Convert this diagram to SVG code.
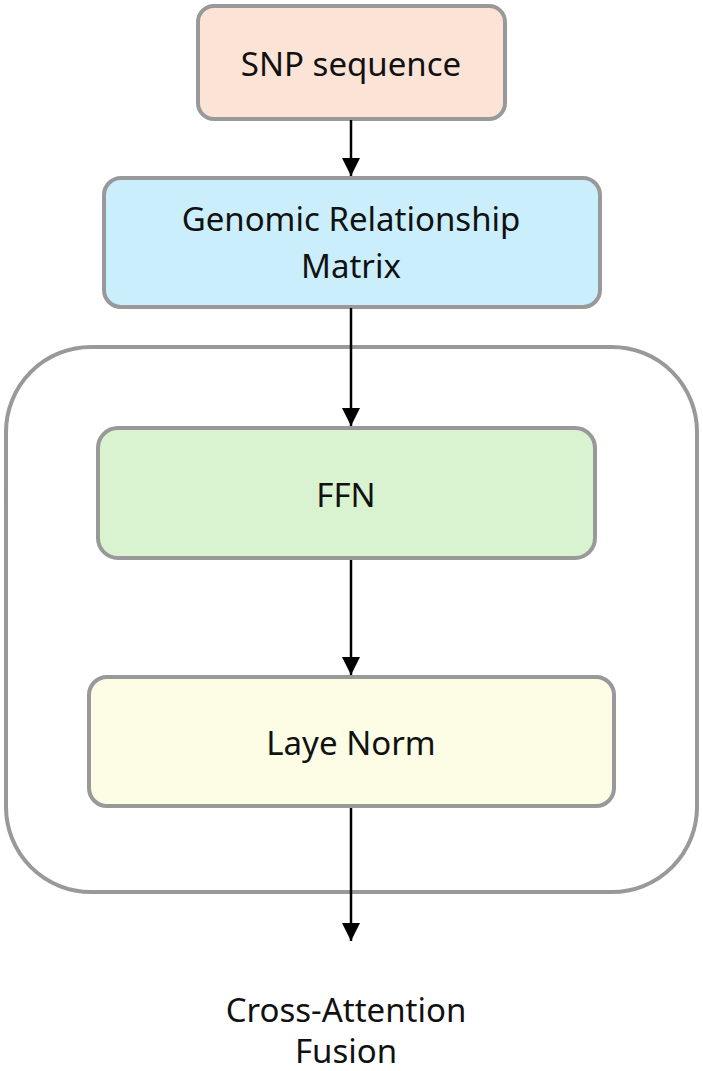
<svg xmlns="http://www.w3.org/2000/svg" width="703" height="1071" viewBox="0 0 703 1071">
<style>
.box{stroke:#999999;stroke-width:4}
.lbl{font-family:"Noto Sans","Liberation Sans",sans-serif;font-size:33px;fill:#111111;text-anchor:middle}
.conn{stroke:#000000;stroke-width:2.5;fill:none}
</style>
<defs>
<marker id="arrow" markerUnits="userSpaceOnUse" markerWidth="20" markerHeight="20" viewBox="0 0 20 20" refX="18" refY="10" orient="auto">
<path d="M0,1 L18,10 L0,19 Z" fill="#000000"/>
</marker>
</defs>
<rect width="703" height="1071" fill="#ffffff"/>
<g id="container">
<rect class="box" x="6" y="347" width="691" height="545" rx="85" ry="85" fill="none"/>
</g>
<g id="snp">
<rect class="box" x="198" y="6" width="307" height="113" rx="16" fill="#fbe3d6"/>
<text class="lbl" x="351" y="76">SNP sequence</text>
</g>
<g id="grm">
<rect class="box" x="104" y="178" width="496" height="129" rx="17" fill="#caeefb"/>
<text class="lbl" x="351" y="231">Genomic Relationship</text>
<text class="lbl" x="351" y="278">Matrix</text>
</g>
<g id="ffn">
<rect class="box" x="98" y="428" width="497" height="130" rx="20" fill="#d9f2d0"/>
<text class="lbl" x="346" y="507">FFN</text>
</g>
<g id="layernorm">
<rect class="box" x="89" y="677" width="525" height="129" rx="18" fill="#fdfde6"/>
<text class="lbl" x="351" y="755">Laye Norm</text>
</g>
<g id="output">
<text class="lbl" x="346" y="1022">Cross-Attention</text>
<text class="lbl" x="346" y="1063">Fusion</text>
</g>
<g id="connectors">
<line class="conn" x1="351" y1="120" x2="351" y2="176" marker-end="url(#arrow)"/>
<line class="conn" x1="351" y1="308" x2="351" y2="426" marker-end="url(#arrow)"/>
<line class="conn" x1="351" y1="560" x2="351" y2="675" marker-end="url(#arrow)"/>
<line class="conn" x1="351" y1="808" x2="351" y2="941" marker-end="url(#arrow)"/>
</g>
</svg>
